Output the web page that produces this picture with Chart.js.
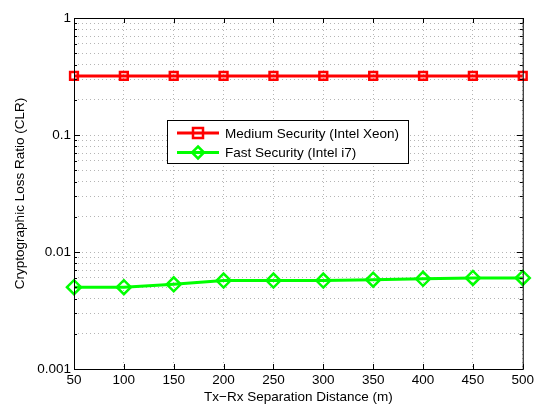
<!DOCTYPE html>
<html>
<head>
<meta charset="utf-8">
<script src="https://cdn.jsdelivr.net/npm/chart.js@4.4.1/dist/chart.umd.min.js"></script>
<style>
    html, body { margin: 0; padding: 0; background: #fff; }
    #wrap { width: 537px; height: 405px; }
</style>
</head>
<body>
<div id="wrap"><canvas id="chartCLR" width="537" height="405"></canvas></div>
<script>
// Dati
const distanze = [50, 100, 150, 200, 250, 300, 350, 400, 450, 500];
const clrMedium = [0.32, 0.32, 0.32, 0.32, 0.32, 0.32, 0.32, 0.32, 0.32, 0.32];
const clrFast = [0.005, 0.005, 0.0053, 0.0057, 0.0057, 0.0057, 0.0058, 0.0059, 0.006, 0.006];
const etichetteY = [0.001, 0.01, 0.1, 1];
const nomiSerie = ['Medium Security (Intel Xeon)', 'Fast Security (Intel i7)'];

const FONT = "'Liberation Sans', Arial, Helvetica, sans-serif";
const FSIZE = 13.5;

// Tick del log: 1..9 per ogni decade
function tickLog() {
    const out = [];
    for (let d = -3; d < 0; d++) {
        for (let m = 1; m < 10; m++) out.push({ value: m * Math.pow(10, d) });
    }
    out.push({ value: 1 });
    return out;
}

// Cornice, tacche interne e legenda dentro il grafico
const cornicePlugin = {
    id: 'cornice',
    afterDraw(chart) {
        const { ctx, chartArea: a, scales } = chart;
        ctx.save();
        ctx.strokeStyle = '#000';
        ctx.lineWidth = 1;
        ctx.strokeRect(a.left + 0.5, a.top + 0.5, a.right - a.left, a.bottom - a.top);

        ctx.beginPath();
        scales.y.ticks.forEach(t => {
            const y = Math.round(scales.y.getPixelForValue(t.value)) + 0.5;
            const major = etichetteY.some(v => Math.abs(v - t.value) < 1e-9);
            const len = major ? 6 : 3;
            ctx.moveTo(a.left, y); ctx.lineTo(a.left + len, y);
            ctx.moveTo(a.right, y); ctx.lineTo(a.right - len, y);
        });
        scales.x.ticks.forEach(t => {
            const x = Math.round(scales.x.getPixelForValue(t.value)) + 0.5;
            ctx.moveTo(x, a.bottom); ctx.lineTo(x, a.bottom - 5);
            ctx.moveTo(x, a.top); ctx.lineTo(x, a.top + 5);
        });
        ctx.stroke();

        // legenda
        const lx = 167, ly = 120, lw = 241, lh = 43;
        ctx.fillStyle = '#fff';
        ctx.fillRect(lx, ly, lw, lh);
        ctx.strokeRect(lx + 0.5, ly + 0.5, lw, lh);
        ctx.font = FSIZE + 'px ' + FONT;
        ctx.textBaseline = 'middle';
        chart.data.datasets.forEach((ds, i) => {
            const y = ly + 13 + i * 19.5;
            ctx.strokeStyle = ds.borderColor;
            ctx.lineWidth = 3;
            ctx.beginPath();
            ctx.moveTo(lx + 10, y); ctx.lineTo(lx + 52, y);
            ctx.stroke();
            ctx.lineWidth = 2.5;
            ctx.beginPath();
            if (ds.pointStyle === 'rect') {
                ctx.rect(lx + 26, y - 5, 10, 10);
            } else {
                ctx.moveTo(lx + 31, y - 6); ctx.lineTo(lx + 37, y);
                ctx.lineTo(lx + 31, y + 6); ctx.lineTo(lx + 25, y);
                ctx.closePath();
            }
            ctx.stroke();
            ctx.fillStyle = '#000';
            ctx.fillText(ds.label, lx + 58, y + 1);
        });
        ctx.restore();
    }
};

new Chart(document.getElementById('chartCLR'), {
    type: 'line',
    data: {
        labels: distanze,
        datasets: [{
            label: nomiSerie[0],
            data: distanze.map((d, i) => ({ x: d, y: clrMedium[i] })),
            borderColor: '#ff0000',
            borderWidth: 3,
            pointStyle: 'rect',
            pointRadius: 5.5,
            pointBorderWidth: 2.5,
            pointBackgroundColor: 'rgba(0,0,0,0)',
            pointBorderColor: '#ff0000'
        }, {
            label: nomiSerie[1],
            data: distanze.map((d, i) => ({ x: d, y: clrFast[i] })),
            borderColor: '#00ff00',
            borderWidth: 3,
            pointStyle: 'rectRot',
            pointRadius: 7,
            pointBorderWidth: 2.5,
            pointBackgroundColor: 'rgba(0,0,0,0)',
            pointBorderColor: '#00ff00'
        }]
    },
    options: {
        responsive: false,
        animation: false,
        clip: false,
        layout: { padding: { top: 18, right: 12, left: 0, bottom: 0 } },
        plugins: {
            legend: { display: false },
            tooltip: { enabled: false }
        },
        scales: {
            x: {
                type: 'linear',
                min: 50,
                max: 500,
                afterFit(scale) { scale.height = 36; },
                ticks: { stepSize: 50, color: '#000', font: { family: FONT, size: FSIZE }, padding: 3 },
                grid: { color: '#b5b5b5', lineWidth: 1, drawTicks: false },
                border: { display: false, dash: [1, 3] },
                title: { display: true, text: 'Tx\u2212Rx Separation Distance (m)', color: '#000',
                         font: { family: FONT, size: FSIZE }, padding: { top: 1, bottom: 0 } }
            },
            y: {
                type: 'logarithmic',
                min: 0.001,
                max: 1,
                afterBuildTicks(scale) { scale.ticks = tickLog(); },
                afterFit(scale) { scale.width = 74; },
                ticks: {
                    color: '#000',
                    font: { family: FONT, size: FSIZE },
                    padding: 3,
                    autoSkip: false,
                    callback(v) {
                        return etichetteY.some(e => Math.abs(e - v) < 1e-9) ? String(v) : '';
                    }
                },
                grid: { color: '#b5b5b5', lineWidth: 1, drawTicks: false },
                border: { display: false, dash: [1, 3] },
                title: { display: true, text: 'Cryptographic Loss Ratio (CLR)', color: '#000',
                         font: { family: FONT, size: FSIZE }, padding: { top: 12, bottom: 4 } }
            }
        }
    },
    plugins: [cornicePlugin]
});
</script>
</body>
</html>
